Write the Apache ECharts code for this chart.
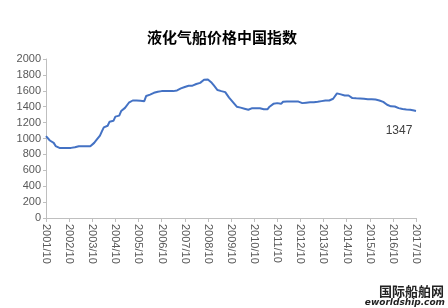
<!DOCTYPE html>
<html><head><meta charset="utf-8">
<script src="https://cdn.jsdelivr.net/npm/echarts@6/dist/echarts.min.js"></script>
<style>html,body{margin:0;padding:0;background:#fff}#c{width:448px;height:308px}</style>
</head><body><div id="c"></div>
<script>
var titleText = '液化气船价格中国指数';
var startYear = 2001, startMonth = 10;
// monthly index values, 2001/10 .. 2017/10
var values = [
 1030,1025,975,972,945,905,885,882,882,882,882,882,
 882,882,885,890,895,903,903,903,903,903,903,903,
 905,945,975,1000,1035,1090,1140,1150,1160,1212,1218,1222,
 1275,1280,1288,1345,1360,1385,1395,1450,1475,1478,1478,1478,
 1478,1475,1455,1470,1535,1550,1552,1555,1575,1582,1588,1592,
 1596,1596,1596,1596,1596,1596,1596,1596,1605,1620,1630,1640,
 1648,1660,1663,1663,1665,1675,1685,1692,1700,1710,1738,1756,
 1743,1720,1700,1670,1645,1610,1598,1596,1585,1583,1580,1515,
 1495,1458,1450,1400,1392,1388,1382,1375,1365,1362,1375,1382,
 1382,1382,1382,1380,1370,1369,1369,1369,1400,1420,1436,1442,
 1445,1440,1436,1462,1466,1466,1466,1466,1466,1466,1466,1464,
 1450,1445,1445,1450,1462,1455,1455,1457,1458,1462,1466,1470,
 1474,1478,1478,1478,1482,1500,1520,1568,1565,1555,1541,1541,
 1541,1541,1530,1508,1506,1505,1504,1504,1502,1500,1496,1495,
 1495,1495,1495,1490,1485,1478,1470,1460,1445,1425,1410,1405,
 1405,1403,1395,1382,1378,1370,1362,1365,1369,1362,1360,1352,
 1347
];
var categories = [];
for (var i = 0; i < values.length; i++) {
  var m = startMonth - 1 + i;
  categories.push((startYear + Math.floor(m / 12)) + '/' + ((m % 12) + 1));
}
var yMin = 0, yMax = 2000, yStep = 200;
var lastIdx = values.length - 1;

var chart = echarts.init(document.getElementById('c'), null, { renderer: 'canvas' });
chart.setOption({
  animation: false,
  backgroundColor: '#ffffff',
  title: {
    text: titleText, left: 142, top: 25,
    textStyle: { fontSize: 15, fontWeight: 'bold', color: '#000', fontFamily: 'Noto Sans CJK SC' }
  },
  grid: { left: 46, right: 32, top: 59, bottom: 90 },
  xAxis: {
    type: 'category', data: categories, boundaryGap: false,
    axisLine: { lineStyle: { color: '#bfbfbf' } },
    axisTick: { interval: 11, length: 4, lineStyle: { color: '#bfbfbf' } },
    axisLabel: { interval: 11, rotate: -90, color: '#595959', fontSize: 11, fontFamily: 'Liberation Sans', margin: 6 },
    splitLine: { show: false }
  },
  yAxis: {
    type: 'value', min: yMin, max: yMax, interval: yStep,
    axisLine: { show: true, lineStyle: { color: '#bfbfbf' } },
    axisTick: { show: true, length: 3, lineStyle: { color: '#bfbfbf' } },
    axisLabel: { color: '#595959', fontSize: 11, fontFamily: 'Liberation Sans', margin: 5,
      formatter: function (v) { return String(v); } },
    splitLine: { show: false }
  },
  series: [{
    type: 'line', data: values, showSymbol: false, symbol: 'none',
    lineStyle: { color: '#4472C4', width: 2 }, itemStyle: { color: '#4472C4' },
    markPoint: {
      symbol: 'circle', symbolSize: 1, itemStyle: { color: 'rgba(0,0,0,0)' },
      data: [{ coord: [lastIdx, values[lastIdx]], value: values[lastIdx] }],
      label: { show: true, position: 'bottom', distance: 13, offset: [-17, 0],
        color: '#404040', fontSize: 12, fontFamily: 'Liberation Sans', formatter: '{c}' }
    }
  }],
  graphic: [
    { type: 'text', right: 4, top: 285, style: { text: '国际船舶网', font: 'bold 13px "Noto Sans CJK SC"', fill: '#222' } },
    { type: 'text', right: 3, top: 298, style: { text: 'eworldship.com', font: 'italic bold 9px "DejaVu Sans"', fill: '#222' } }
  ]
});
</script></body></html>
